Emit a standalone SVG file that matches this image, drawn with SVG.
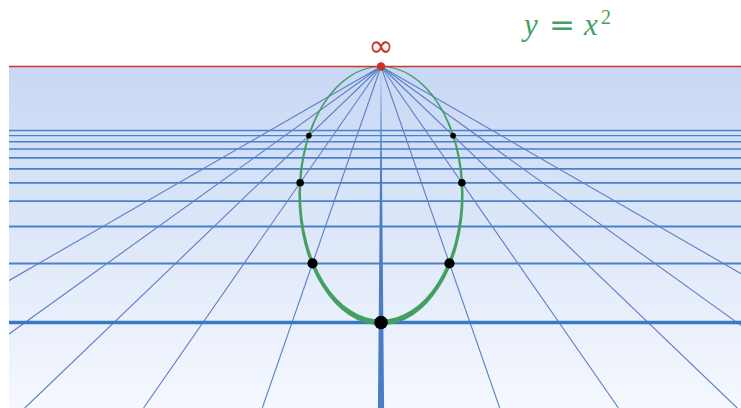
<svg xmlns="http://www.w3.org/2000/svg" width="741" height="408" viewBox="0 0 741 408">
<style>
.grid{stroke:#3a79c5;stroke-opacity:0.92;fill:none}
.ray{stroke:#5a7fc6;stroke-width:1.1;fill:none}
.dot{fill:#000}
.math{font-family:"Liberation Serif","DejaVu Serif",serif;fill:#43a062}
</style>
<defs>
<linearGradient id="bg" x1="0" y1="0" x2="0" y2="1">
<stop offset="0" stop-color="#c8d7f4"/>
<stop offset="1" stop-color="#f5f8fe"/>
</linearGradient>
<clipPath id="plane"><rect x="9" y="66.5" width="732" height="341.5"/></clipPath>
</defs>
<rect x="0" y="0" width="741" height="408" fill="#fff"/>
<rect id="ground" x="9" y="66.5" width="732" height="341.5" fill="url(#bg)"/>
<g id="gridlines" clip-path="url(#plane)">
<line class="grid" x1="9" y1="263.38" x2="741" y2="263.38" stroke-width="2"/>
<line class="grid" x1="9" y1="226.44" x2="741" y2="226.44" stroke-width="1.9"/>
<line class="grid" x1="9" y1="201.17" x2="741" y2="201.17" stroke-width="1.8"/>
<line class="grid" x1="9" y1="182.8" x2="741" y2="182.8" stroke-width="1.7"/>
<line class="grid" x1="9" y1="168.84" x2="741" y2="168.84" stroke-width="1.6"/>
<line class="grid" x1="9" y1="157.87" x2="741" y2="157.87" stroke-width="1.55"/>
<line class="grid" x1="9" y1="149.02" x2="741" y2="149.02" stroke-width="1.5"/>
<line class="grid" x1="9" y1="141.74" x2="741" y2="141.74" stroke-width="1.45"/>
<line class="grid" x1="9" y1="135.64" x2="741" y2="135.64" stroke-width="1.4"/>
<line class="grid" x1="9" y1="130.45" x2="741" y2="130.45" stroke-width="1.4"/>
</g>
<g id="rays" clip-path="url(#plane)">
<line class="ray" x1="381" y1="66.5" x2="499.73" y2="408"/>
<line class="ray" x1="381" y1="66.5" x2="262.27" y2="408"/>
<line class="ray" x1="381" y1="66.5" x2="618.46" y2="408"/>
<line class="ray" x1="381" y1="66.5" x2="143.54" y2="408"/>
<line class="ray" x1="381" y1="66.5" x2="737.19" y2="408"/>
<line class="ray" x1="381" y1="66.5" x2="24.81" y2="408"/>
<line class="ray" x1="381" y1="66.5" x2="855.92" y2="408"/>
<line class="ray" x1="381" y1="66.5" x2="-93.92" y2="408"/>
<line class="ray" x1="381" y1="66.5" x2="974.65" y2="408"/>
<line class="ray" x1="381" y1="66.5" x2="-212.65" y2="408"/>
</g>
<g id="axes" clip-path="url(#plane)">
<polygon points="381,66.5 377.9,408 384.1,408" fill="#4a7cc8"/>
<line x1="9" y1="322.5" x2="741" y2="322.5" stroke="#3878c6" stroke-width="3.4"/>
</g>
<g id="parabola">
<path fill="#43a062" fill-rule="evenodd" d="M298.4,195.6 a82.6,129.7 0 1,0 165.2,0 a82.6,129.7 0 1,0 -165.2,0 Z M301,193.4 a80,126.3 0 1,0 160,0 a80,126.3 0 1,0 -160,0 Z"/>
</g>
<g id="horizon">
<line x1="9" y1="66.5" x2="741" y2="66.5" stroke="#c8392a" stroke-width="1.3"/>
</g>
<g id="points">
<circle class="dot" cx="381" cy="322.5" r="6.8"/>
<circle class="dot" cx="312.55" cy="263.38" r="5.1"/>
<circle class="dot" cx="449.45" cy="263.38" r="5.1"/>
<circle class="dot" cx="300.13" cy="182.8" r="3.8"/>
<circle class="dot" cx="461.87" cy="182.8" r="3.8"/>
<circle class="dot" cx="308.9" cy="135.64" r="2.8"/>
<circle class="dot" cx="453.1" cy="135.64" r="2.8"/>
</g>
<g id="infinity">
<circle cx="381" cy="66.5" r="4.2" fill="#c8321e"/>
<text x="381" y="56" text-anchor="middle" font-family="DejaVu Sans,sans-serif" font-size="30" fill="#c8321e">∞</text>
</g>
<g id="formula" class="math">
<text x="524" y="35" font-size="31" font-style="italic">y</text>
<text x="562" y="35" font-size="31" font-family="DejaVu Sans,sans-serif" text-anchor="middle">=</text>
<text x="584" y="35" font-size="31" font-style="italic">x</text>
<text x="601" y="24" font-size="20">2</text>
</g>
</svg>
